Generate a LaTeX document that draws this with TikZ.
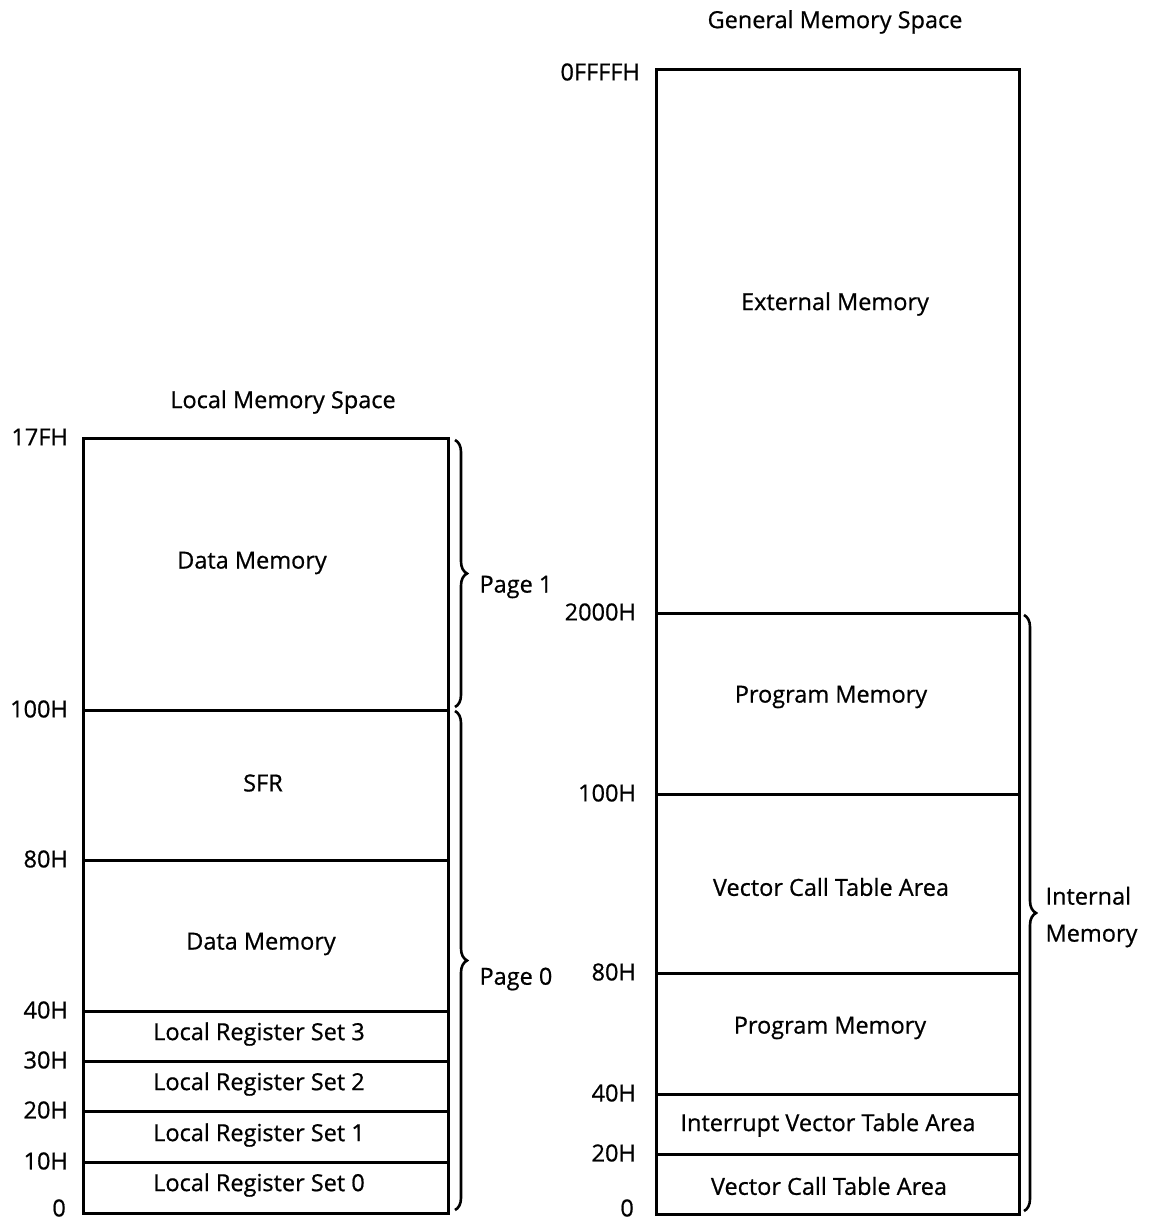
\documentclass[tikz,border=0pt]{standalone}
\usepackage{fontspec}
\setmainfont{Open Sans}[FakeBold=0.7]
\usetikzlibrary{decorations.pathreplacing}
\begin{document}
\begin{tikzpicture}[x=1pt,y=-1pt,
  region/.style={draw, line width=3pt, minimum width=#1, inner sep=0pt, anchor=north west},
  txt/.style={font=\fontsize{23.5}{37}\selectfont},
  addr/.style={font=\fontsize{23.5}{28}\selectfont, anchor=east, inner sep=0pt},
  bracestyle/.style={decorate, decoration={brace, amplitude=12pt}, line width=2.6pt}]
\useasboundingbox (0,0) rectangle (1153,1222);
% left regions
\node[region=365pt, minimum height=272pt] (l1) at (82,437) {};
\node[region=365pt, minimum height=150pt] (l2) at (82,709) {};
\node[region=365pt, minimum height=151pt] (l3) at (82,859) {};
\node[region=365pt, minimum height=50pt] (l4) at (82,1010) {};
\node[region=365pt, minimum height=50pt] (l5) at (82,1060) {};
\node[region=365pt, minimum height=51pt] (l6) at (82,1110) {};
\node[region=365pt, minimum height=51pt] (l7) at (82,1161) {};
% right regions
\node[region=363pt, minimum height=544pt] (r1) at (655,68) {};
\node[region=363pt, minimum height=181pt] (r2) at (655,612) {};
\node[region=363pt, minimum height=179pt] (r3) at (655,793) {};
\node[region=363pt, minimum height=121pt] (r4) at (655,972) {};
\node[region=363pt, minimum height=60pt] (r5) at (655,1093) {};
\node[region=363pt, minimum height=60pt] (r6) at (655,1153) {};
% titles
\node[txt] (tl) at (283,402) {Local Memory Space};
\node[txt] (tr) at (835,22) {General Memory Space};
% region labels
\node[txt] (tl1) at (252,563) {Data Memory};
\node[txt] (tl2) at (263,783) {SFR};
\node[txt] (tl3) at (261,944) {Data Memory};
\node[txt] (tl4) at (259,1034) {Local Register Set 3};
\node[txt] (tl5) at (259,1084) {Local Register Set 2};
\node[txt] (tl6) at (259,1135) {Local Register Set 1};
\node[txt] (tl7) at (259,1185) {Local Register Set 0};
\node[txt] (tr1) at (835,304) {External Memory};
\node[txt] (tr2) at (831,697) {Program Memory};
\node[txt] (tr3) at (831,887) {Vector Call Table Area};
\node[txt] (tr4) at (830,1028) {Program Memory};
\node[txt] (tr5) at (828,1125) {Interrupt Vector Table Area};
\node[txt] (tr6) at (829,1186) {Vector Call Table Area};
% addresses left
\node[addr] (a1) at (68,437) {17FH};
\node[addr] (a2) at (68,709) {100H};
\node[addr] (a3) at (68,859) {80H};
\node[addr] (a4) at (68,1010) {40H};
\node[addr] (a5) at (68,1060) {30H};
\node[addr] (a6) at (68,1110) {20H};
\node[addr] (a7) at (68,1161) {10H};
\node[addr] (a8) at (66,1208) {0};
% addresses right
\node[addr] (b1) at (640,72) {0FFFFH};
\node[addr] (b2) at (636,612) {2000H};
\node[addr] (b3) at (636,793) {100H};
\node[addr] (b4) at (636,972) {80H};
\node[addr] (b5) at (636,1093) {40H};
\node[addr] (b6) at (636,1153) {20H};
\node[addr] (b7) at (634,1208) {0};
% braces
\coordinate (p1t) at (455,440);
\coordinate (p1b) at (455,707);
\coordinate (p0t) at (455,711);
\coordinate (p0b) at (455,1210);
\coordinate (imt) at (1024,615);
\coordinate (imb) at (1024,1211);
\draw[bracestyle] (p1t) -- (p1b);
\draw[bracestyle] (p0t) -- (p0b);
\draw[bracestyle] (imt) -- (imb);
\node[txt, anchor=west] (pg1) at (476,587) {Page 1};
\node[txt, anchor=west] (pg0) at (476,979) {Page 0};
\node[txt, anchor=west, align=left] (im) at (1042,917) {Internal\\Memory};
\end{tikzpicture}
\end{document}
